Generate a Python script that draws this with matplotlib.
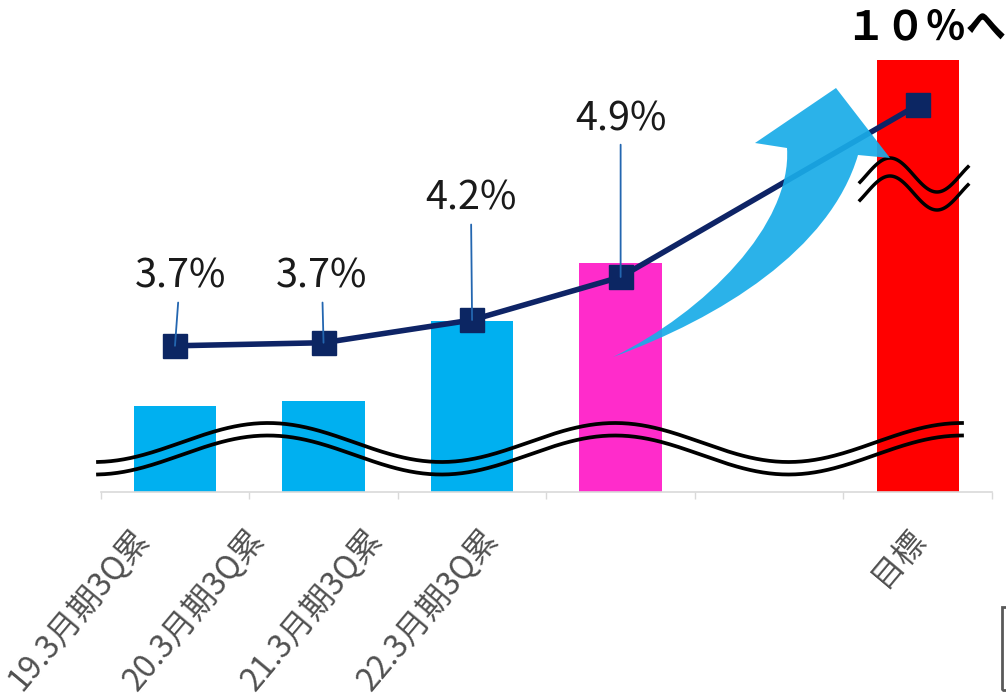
import numpy as np
import matplotlib
matplotlib.use("Agg")
import matplotlib.pyplot as plt
import matplotlib.transforms as mtransforms
from matplotlib.path import Path
from matplotlib.patches import PathPatch, Rectangle
from matplotlib.lines import Line2D

plt.rcParams['font.family'] = ['Noto Sans CJK JP', 'DejaVu Sans']

# data
categories = ['19.3月期3Q累', '20.3月期3Q累', '21.3月期3Q累', '22.3月期3Q累', '', '目標']
bar_heights = [86, 91, 171, 229, 0, 432]        # broken axis, display units
rate_x = [0, 1, 2, 3, 5]
rate_pos = [3.78, 3.83, 4.20, 4.90, 7.70]       # plotted positions on the (broken) rate axis
rate_labels = ['3.7%', '3.7%', '4.2%', '4.9%']
target_label = '１０％へ'

W, H = 1006, 699
fig = plt.figure(figsize=(W / 100, H / 100), dpi=100)


def px(x, y):
    # image pixel -> figure fraction
    return np.asarray(x) / W, 1 - np.asarray(y) / H


ax = fig.add_axes([100.7 / W, 207 / H, (992 - 100.7) / W, 452 / H])
ax.set_xlim(-0.5, 5.5)
ax.set_ylim(0, 452)

bar_colors = ['#00B0F0', '#00B0F0', '#00B0F0', '#FF2CCB', 'none', '#FF0000']
ax.bar(range(len(categories)), bar_heights, width=0.555, color=bar_colors, zorder=1)

for s in ['top', 'left', 'right']:
    ax.spines[s].set_visible(False)
ax.spines['bottom'].set_color('#D9D9D9')
ax.spines['bottom'].set_linewidth(1.2)
ax.set_yticks([])
ax.set_xticks(np.arange(-0.5, 6, 1))
ax.set_xticklabels([])
ax.tick_params(axis='x', length=5, color='#D9D9D9', width=1)

# category labels (placed as in the original slide)
label_x = [-0.215, 0.565, 1.353, 2.140, 2.93, 5.007]
trans = mtransforms.blended_transform_factory(ax.transData, ax.transAxes)
for lx, lab in zip(label_x, categories):
    if lab:
        ax.text(lx, -0.091, lab, transform=trans, rotation=50, ha='right', va='center',
                rotation_mode='anchor', fontsize=23, color='#505050')

# rate line
ax2 = ax.twinx()
ax2.set_ylim(1.4, 8.758)
ax2.axis('off')
ax2.plot(rate_x, rate_pos, color='#0E2466', lw=4, marker='s', ms=17.5,
         mfc='#0C2663', mec='#0C2663', zorder=2)

label_pos = [(0.034, 4.90), (0.989, 4.90), (1.992, 6.17), (3.0, 7.47)]
for (lx, ly), xv, yv, lab in zip(label_pos, rate_x, rate_pos, rate_labels):
    ax2.annotate(lab, xy=(xv, yv), xytext=(lx, ly), ha='center', va='center',
                 fontsize=28.5, color='#1A1A1A',
                 arrowprops=dict(arrowstyle='-', color='#2366B0', lw=1.3,
                                 shrinkA=2, shrinkB=0), zorder=3)

# break marks (wavy double lines)
xw = np.linspace(98, 962, 400)
yw = 442.5 - 19.5 * np.cos(2 * np.pi * (xw - 268) / 347)
for off in [0, 12.5]:
    fx, fy = px(xw, yw + off)
    fig.add_artist(Line2D(fx, fy, color='black', lw=2.7, transform=fig.transFigure, zorder=2))

xs = np.linspace(860, 968, 120)
ys = 175 - 17 * np.cos(2 * np.pi * (xs - 890) / 94)
for off in [0, 18]:
    fx, fy = px(xs, ys + off)
    fig.add_artist(Line2D(fx, fy, color='black', lw=2.5, transform=fig.transFigure, zorder=2))

# big curved arrow
verts = [(613, 357), (720, 318), (830, 250), (858, 155),
         (890, 158), (836, 88), (755, 143), (787, 148),
         (792, 225), (705, 312), (613, 357), (613, 357)]
codes = [Path.MOVETO, Path.CURVE4, Path.CURVE4, Path.CURVE4,
         Path.LINETO, Path.LINETO, Path.LINETO, Path.LINETO,
         Path.CURVE4, Path.CURVE4, Path.CURVE4, Path.CLOSEPOLY]
vx, vy = px([v[0] for v in verts], [v[1] for v in verts])
arrow = PathPatch(Path(np.column_stack([vx, vy]), codes), facecolor='#19ACE8',
                  edgecolor='none', alpha=0.92, transform=fig.transFigure, zorder=3)
fig.add_artist(arrow)

# target text
tx, ty = px(845, 28)
fig.text(tx, ty, target_label, ha='left', va='center', fontsize=29,
         fontweight='bold', color='black')

# small box edge at the bottom right
bx, by = px(1002, 690)
fig.add_artist(Rectangle((bx, by), 20 / W, 83 / H, facecolor='none', edgecolor='#595959',
                         lw=2, transform=fig.transFigure))

fig.savefig('out.png', dpi=100)
